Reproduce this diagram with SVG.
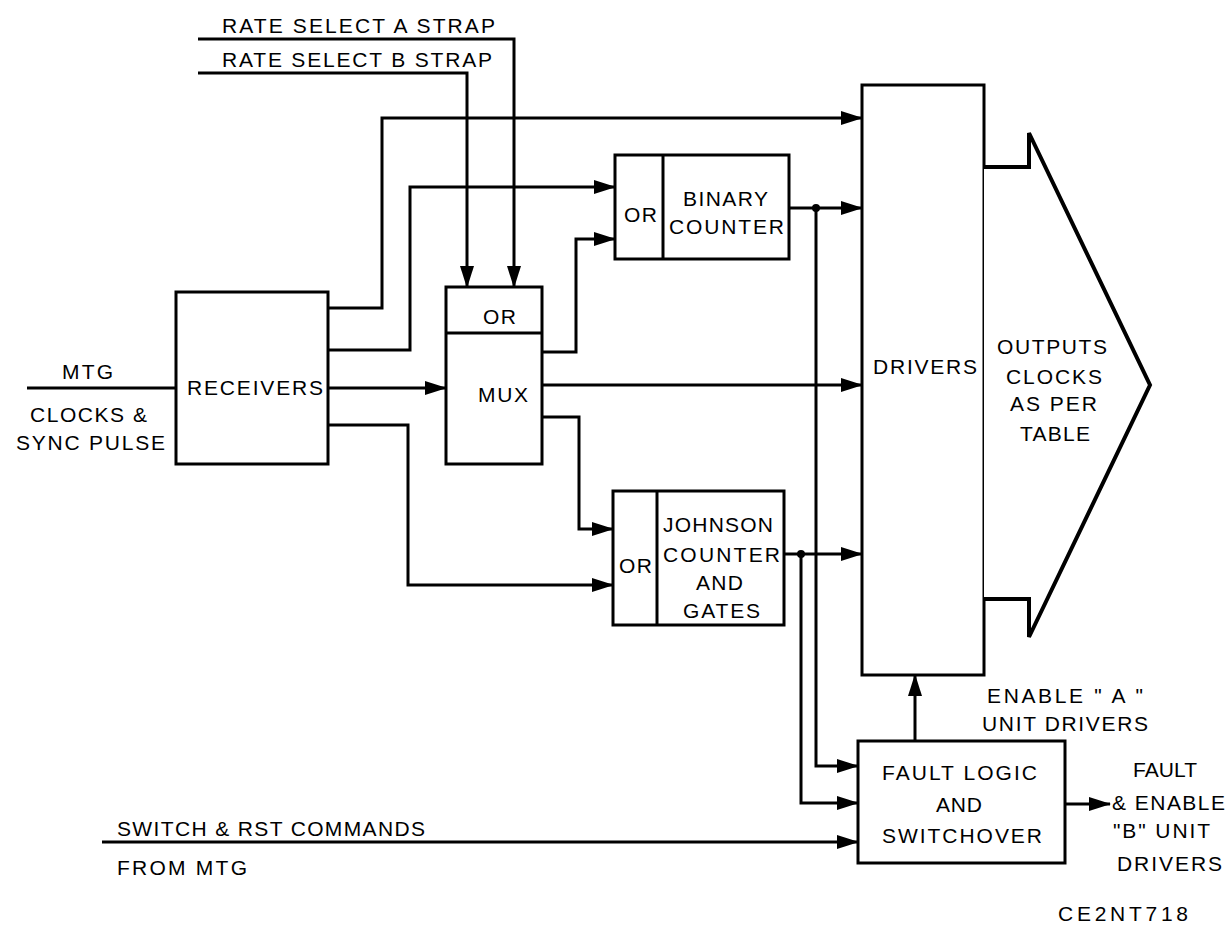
<svg xmlns="http://www.w3.org/2000/svg" width="1228" height="926" viewBox="0 0 1228 926">
<style>
.box{fill:#fff;stroke:#000;stroke-width:3}
.ln{fill:none;stroke:#000;stroke-width:3}
.arr{marker-end:url(#ah)}
text{font-family:"Liberation Sans",Arial,sans-serif;font-size:21px;fill:#000}
</style>
<defs>
<marker id="ah" markerUnits="userSpaceOnUse" viewBox="0 0 22 14" markerWidth="22" markerHeight="14" refX="21" refY="7" orient="auto">
<path d="M0,0 L22,7 L0,14 z" fill="#000"/>
</marker>
</defs>
<rect width="1228" height="926" fill="#fff"/>

<g id="connectors">
<path class="ln" d="M198,39 H514 V250"/>
<path class="ln arr" d="M514,250 V287"/>
<path class="ln" d="M198,73 H467 V250"/>
<path class="ln arr" d="M467,250 V287"/>
<path class="ln arr" d="M328,308 H382 V118 H862"/>
<path class="ln arr" d="M328,350 H410 V187 H615"/>
<path class="ln arr" d="M328,388 H446"/>
<path class="ln arr" d="M328,425 H408 V585 H613"/>
<path class="ln arr" d="M542,352 H576 V239 H615"/>
<path class="ln arr" d="M542,385 H862"/>
<path class="ln arr" d="M542,417 H579 V529 H613"/>
<path class="ln arr" d="M789,208 H862"/>
<path class="ln arr" d="M816,208 V766 H858"/>
<circle cx="816" cy="208" r="4" fill="#000"/>
<path class="ln arr" d="M784,554 H862"/>
<path class="ln arr" d="M801,554 V803 H858"/>
<circle cx="801" cy="554" r="4" fill="#000"/>
<path class="ln arr" d="M915,741 V675"/>
<path class="ln arr" d="M1065,804 H1110"/>
<path class="ln arr" d="M102,842 H858"/>
<path class="ln" d="M27,388 H176"/>
</g>

<g id="rate-labels">
<text x="222" y="33" textLength="273">RATE SELECT A STRAP</text>
<text x="222" y="66.5" textLength="270">RATE SELECT B STRAP</text>
</g>

<g id="mtg-input">
<text x="62" y="379" textLength="51">MTG</text>
<text x="30" y="422" textLength="117">CLOCKS &amp;</text>
<text x="16" y="450" textLength="149">SYNC PULSE</text>
</g>

<g id="receivers">
<rect class="box" x="176" y="292" width="152" height="172"/>
<text x="187" y="395" textLength="136">RECEIVERS</text>
</g>

<g id="mux">
<rect class="box" x="446" y="287" width="96" height="177"/>
<path class="ln" d="M446,333 H542"/>
<text x="483" y="324" textLength="33">OR</text>
<text x="478" y="402" textLength="50">MUX</text>
</g>

<g id="binary-counter">
<rect class="box" x="615" y="155" width="174" height="104"/>
<path class="ln" d="M663,155 V259"/>
<text x="624" y="222" textLength="33">OR</text>
<text x="683" y="205.7" textLength="85">BINARY</text>
<text x="669" y="234" textLength="115">COUNTER</text>
</g>

<g id="johnson-counter">
<rect class="box" x="613" y="491" width="171" height="134"/>
<path class="ln" d="M657,491 V625"/>
<text x="619" y="573" textLength="33">OR</text>
<text x="663" y="532" textLength="110">JOHNSON</text>
<text x="663" y="562" textLength="117">COUNTER</text>
<text x="696" y="590" textLength="47">AND</text>
<text x="683" y="618" textLength="77">GATES</text>
</g>

<g id="drivers">
<rect class="box" x="862" y="85" width="122" height="590"/>
<text x="873" y="374" textLength="104">DRIVERS</text>
</g>

<g id="outputs">
<path d="M984,167 H1029 V133 L1150,385 L1029,637 V599 H984" fill="#fff" stroke="#000" stroke-width="4" stroke-linejoin="miter"/>
<text x="997" y="354" textLength="110">OUTPUTS</text>
<text x="1006" y="384" textLength="96">CLOCKS</text>
<text x="1010" y="411" textLength="87">AS PER</text>
<text x="1020" y="441" textLength="70">TABLE</text>
</g>

<g id="enable-a-label">
<text x="987" y="703" textLength="156">ENABLE "  A  "</text>
<text x="982" y="731" textLength="166">UNIT DRIVERS</text>
</g>

<g id="fault-logic">
<rect class="box" x="858" y="741" width="207" height="122"/>
<text x="882" y="780" textLength="155">FAULT LOGIC</text>
<text x="936" y="812" textLength="46">AND</text>
<text x="882" y="843" textLength="160">SWITCHOVER</text>
</g>

<g id="fault-output">
<text x="1133" y="777" textLength="64">FAULT</text>
<text x="1112" y="810" textLength="113">&amp; ENABLE</text>
<text x="1113" y="838" textLength="97">"B" UNIT</text>
<text x="1117" y="871" textLength="105">DRIVERS</text>
</g>

<g id="switch-input">
<text x="117" y="836" textLength="308">SWITCH &amp; RST COMMANDS</text>
<text x="117" y="875" textLength="130">FROM MTG</text>
</g>

<g id="figure-id">
<text x="1058" y="921" textLength="130">CE2NT718</text>
</g>
</svg>
